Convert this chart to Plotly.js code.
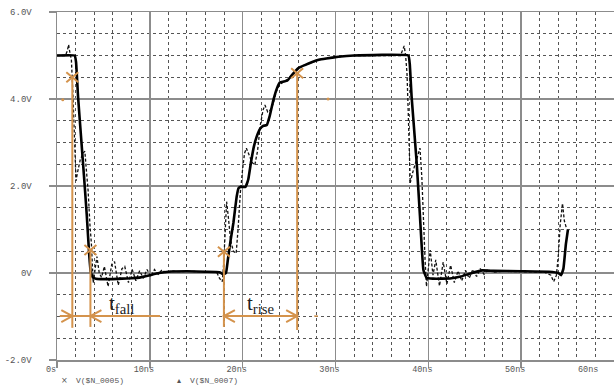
<!DOCTYPE html>
<html><head><meta charset="utf-8">
<script src="https://cdn.plot.ly/plotly-3.0.1.min.js"></script>
<style>html,body{margin:0;padding:0;background:#fff;}#chart{width:614px;height:385px;}</style>
</head><body><div id="chart"></div>
<script>
// Solid trace V($N_0005): time (ns), voltage (V)
const tSolid = [0, 1.9, 2.05, 2.27, 2.6, 2.9, 3.2, 3.46, 3.65, 3.85, 4.2, 5, 6, 7, 8, 9, 10, 11, 12, 14, 16, 17.5, 17.9, 18.2, 18.4, 18.7, 19.0, 19.35, 19.55, 19.8, 20.3, 20.6, 20.9, 21.2, 21.5, 21.9, 22.2, 22.6, 22.9, 23.3, 23.7, 24.0, 24.4, 24.8, 25.3, 26.0, 26.7, 27.5, 28.2, 29.0, 30.3, 32, 37.85, 38.0, 38.2, 38.75, 39.1, 39.47, 39.8, 40.5, 41.5, 42.5, 43.5, 44.7, 45.8, 47, 50, 53, 54.0, 54.3, 54.55, 54.82, 55.04];
const vSolid = [5.0, 5.0, 4.85, 4.05, 3.1, 2.25, 1.35, 0.45, 0.0, -0.1, -0.13, -0.14, -0.14, -0.13, -0.12, -0.1, -0.05, 0.0, 0.03, 0.04, 0.03, 0.02, -0.03, 0.0, 0.3, 0.75, 1.15, 1.75, 1.95, 1.98, 1.98, 2.15, 2.55, 2.9, 3.13, 3.32, 3.38, 3.4, 3.6, 3.97, 4.25, 4.38, 4.4, 4.42, 4.55, 4.71, 4.78, 4.85, 4.9, 4.93, 4.97, 5.0, 5.0, 4.8, 4.05, 2.52, 1.3, 0.07, -0.11, -0.13, -0.13, -0.12, -0.08, 0.0, 0.06, 0.05, 0.04, 0.03, 0.0, -0.05, 0.1, 0.67, 1.0];
// Dashed trace V($N_0007)
const tDashed = [0, 0.9, 1.1, 1.25, 1.4, 1.55, 1.7, 1.84, 1.95, 2.05, 2.2, 2.5, 2.8, 3.0, 3.15, 3.35, 3.55, 3.7, 3.9, 4.1, 4.3, 4.55, 4.8, 5.1, 5.5, 5.9, 6.2, 6.6, 7.0, 7.3, 7.7, 8.1, 8.5, 8.9, 9.3, 9.7, 10.1, 10.5, 10.9, 11.3, 11.8, 12.3, 13, 14, 16, 17.2, 17.5, 17.8, 17.95, 18.1, 18.27, 18.45, 18.7, 19.0, 19.3, 19.5, 19.75, 20.0, 20.2, 20.4, 20.7, 21.0, 21.3, 21.6, 21.9, 22.2, 22.4, 22.7, 23.0, 23.3, 23.6, 23.9, 24.2, 24.6, 25.0, 25.5, 26.0, 26.7, 28.2, 30.3, 32, 37.0, 37.2, 37.4, 37.55, 37.7, 37.85, 38.05, 38.3, 38.7, 39.1, 39.3, 39.5, 39.65, 39.8, 40.0, 40.2, 40.5, 40.8, 41.2, 41.6, 42.0, 42.4, 42.8, 43.2, 43.6, 44.0, 44.4, 44.8, 45.2, 45.6, 46.0, 46.4, 47, 48, 50, 52.5, 53.2, 53.5, 53.8, 54.0, 54.2, 54.45, 54.65, 54.85];
const vDashed = [5.0, 5.0, 5.1, 5.25, 5.05, 4.9, 4.2, 3.3, 2.5, 2.12, 2.3, 2.6, 2.75, 2.8, 2.4, 1.9, 1.1, 0.69, -0.23, 0.1, 0.38, 0.0, -0.1, 0.15, -0.31, 0.2, 0.26, -0.28, 0.1, 0.15, -0.22, 0.08, -0.18, 0.05, -0.12, 0.08, -0.08, 0.08, -0.03, 0.07, 0.0, 0.05, 0.03, 0.04, 0.03, 0.02, -0.12, -0.2, 0.2, 0.9, 1.64, 1.3, 0.75, 0.5, 0.45, 1.0, 1.85, 2.4, 2.75, 2.87, 2.7, 2.55, 2.48, 2.8, 3.4, 3.75, 3.86, 3.7, 3.75, 3.9, 4.15, 4.3, 4.36, 4.42, 4.48, 4.6, 4.71, 4.78, 4.9, 4.97, 5.0, 5.0, 5.1, 5.22, 5.0, 4.6, 3.6, 2.07, 2.3, 2.6, 2.87, 2.2, 1.0, 0.3, -0.31, 0.2, 0.53, -0.05, 0.3, -0.3, 0.25, -0.25, 0.18, -0.22, 0.05, -0.18, 0.06, -0.12, 0.08, -0.08, 0.1, -0.03, 0.08, 0.02, 0.04, 0.03, 0.02, -0.05, -0.2, -0.05, 0.4, 1.1, 1.6, 1.2, 1.05];
// Cursor measurement points (orange): time, voltage
const cursorT = [1.65, 3.6, 17.98, 25.87];
const cursorV = [4.5, 0.53, 0.49, 4.59];
const cursorBottomV = [-1.26, -1.24, -1.24, -1.31];
const measureV = -0.99;
const strayT = [0.62, 29.2];
const strayV = [3.98, 4.0];
// Tick labels
const xTickVals = [0, 10, 20, 30, 40, 50, 60];
const xTickText = ['0s', '10ns', '20ns', '30ns', '40ns', '50ns', '60ns'];
const yTickVals = [-2, 0, 2, 4, 6];
const yTickText = ['-2.0V', '0V', '2.0V', '4.0V', '6.0V'];
const seriesNames = ['V($N_0005)', 'V($N_0007)'];

const ORANGE = '#D4934C';
const shapes = [];
for (let i = 0; i < cursorT.length; i++) {
  shapes.push({type:'line', xref:'x', yref:'y', x0:cursorT[i], x1:cursorT[i], y0:cursorV[i], y1:cursorBottomV[i], line:{color:ORANGE, width:2}});
  shapes.push({type:'path', xref:'x', yref:'y', xsizemode:'pixel', ysizemode:'pixel', xanchor:cursorT[i], yanchor:cursorV[i],
    path:'M -6 -5 L 6 5 M -6 5 L 6 -5', line:{color:ORANGE, width:2}});
}
shapes.push({type:'line', xref:'x', yref:'y', x0:0.3, x1:11.1, y0:measureV, y1:measureV, line:{color:ORANGE, width:2}});
shapes.push({type:'line', xref:'x', yref:'y', x0:cursorT[2], x1:cursorT[3], y0:measureV, y1:measureV, line:{color:ORANGE, width:2}});
shapes.push({type:'line', xref:'x', yref:'y', x0:27.7, x1:28.1, y0:measureV, y1:measureV, line:{color:ORANGE, width:1.5}});
const heads = [[cursorT[0], 'M -11 -6 L 0 0 L -11 6'], [cursorT[1], 'M 11 -6 L 0 0 L 11 6'],
               [cursorT[2], 'M 11 -6 L 0 0 L 11 6'], [cursorT[3], 'M -11 -6 L 0 0 L -11 6']];
heads.forEach(h => shapes.push({type:'path', xref:'x', yref:'y', xsizemode:'pixel', ysizemode:'pixel', xanchor:h[0], yanchor:measureV, path:h[1], line:{color:ORANGE, width:2}}));

const tickFont = {family:'Liberation Mono, DejaVu Sans Mono, monospace', size:8.5, color:'#555'};
const yTickFont = {family:'Liberation Mono, DejaVu Sans Mono, monospace', size:9, color:'#555'};
const legendY = -0.059;
const legendFont = {family:'Liberation Mono, monospace', size:8, color:'#555'};
const annotations = [
  {xref:'x', yref:'y', x:5.4, y:-0.72, xanchor:'left', yanchor:'middle', showarrow:false, text:'t<sub>fall</sub>', font:{family:'Liberation Serif, serif', size:21, color:'#222'}},
  {xref:'x', yref:'y', x:20.3, y:-0.72, xanchor:'left', yanchor:'middle', showarrow:false, text:'t<sub>rise</sub>', font:{family:'Liberation Serif, serif', size:21, color:'#222'}},
  {xref:'paper', yref:'paper', x:0.0036, y:legendY, xanchor:'left', yanchor:'middle', showarrow:false, text:'×', font:{family:'DejaVu Sans', size:8, color:'#555'}},
  {xref:'paper', yref:'paper', x:0.0305, y:legendY, xanchor:'left', yanchor:'middle', showarrow:false, text:seriesNames[0], font:legendFont},
  {xref:'paper', yref:'paper', x:0.2118, y:legendY, xanchor:'left', yanchor:'middle', showarrow:false, text:'▴', font:{family:'DejaVu Sans', size:8, color:'#555'}},
  {xref:'paper', yref:'paper', x:0.235, y:legendY, xanchor:'left', yanchor:'middle', showarrow:false, text:seriesNames[1], font:legendFont},
  {xref:'x', yref:'paper', x:xTickVals[6], y:-0.008, xanchor:'right', yanchor:'top', xshift:-14, showarrow:false, text:xTickText[6], font:tickFont}
];

const traces = [
  {x:tDashed, y:vDashed, type:'scatter', mode:'lines', name:seriesNames[1], line:{color:'#111', width:1.3, dash:'3px,2px'}},
  {x:tSolid, y:vSolid, type:'scatter', mode:'lines', name:seriesNames[0], line:{color:'#000', width:2.6, shape:'spline', smoothing:0.3}},
  {x:strayT, y:strayV, type:'scatter', mode:'markers', marker:{color:ORANGE, size:3}, showlegend:false}
];

const gridMajor = '#8c8c8c';
const layout = {
  width:614, height:385, margin:{l:57, r:0, t:12, b:25},
  paper_bgcolor:'#fff', plot_bgcolor:'#fff', showlegend:false,
  xaxis:{range:[0,60], tickvals:xTickVals.slice(0,6), ticktext:xTickText.slice(0,6), showgrid:true, gridcolor:gridMajor, gridwidth:1.5,
    ticks:'outside', ticklen:6, tickwidth:1.5, tickcolor:gridMajor, tickfont:tickFont, ticklabelshift:-6, ticklabelstandoff:-6,
    showline:true, linecolor:gridMajor, linewidth:1.5, mirror:true, zeroline:false,
    minor:{dtick:2, showgrid:true, gridcolor:'#555', griddash:'dot', gridwidth:1, ticks:''}},
  yaxis:{range:[-2,6], tickvals:yTickVals, ticktext:yTickText, showgrid:true, gridcolor:gridMajor, gridwidth:1.5,
    ticks:'outside', ticklen:7, tickwidth:1.5, tickcolor:gridMajor, tickfont:yTickFont, ticklabelstandoff:15,
    showline:true, linecolor:gridMajor, linewidth:1.5, mirror:true, zeroline:true, zerolinecolor:gridMajor, zerolinewidth:1.5,
    minor:{dtick:0.5, showgrid:true, gridcolor:'#555', griddash:'dot', gridwidth:1, ticks:''}},
  shapes:shapes, annotations:annotations
};
Plotly.newPlot('chart', traces, layout, {displayModeBar:false, staticPlot:true});
</script></body></html>
